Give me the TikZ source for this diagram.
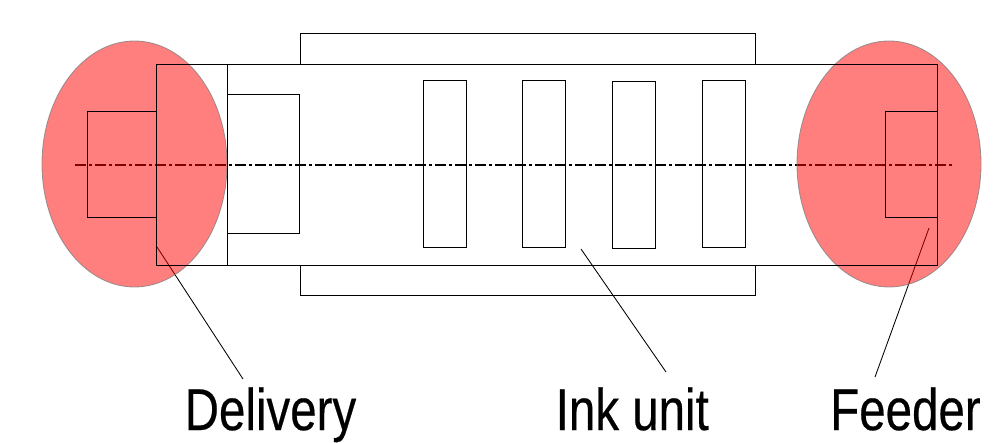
\documentclass[tikz,border=0pt]{standalone}
\usepackage{fontspec}
\setmainfont{Liberation Sans}
\newfontfamily\labfont[FakeBold=0.4]{Liberation Sans}
\tikzset{
  x=1pt,y=-1pt,
  box/.style={draw=black,line width=1pt},
  zone/.style={fill=red,fill opacity=.5,draw=gray,draw opacity=.8,line width=.8pt},
  leader/.style={draw=black,line width=.85pt},
  axis/.style={draw=black,line width=2.8pt,dash pattern=on 10.5pt off 3.2pt on 3.1pt off 3.2pt},
  lab/.style={anchor=base west,inner sep=0pt,font=\labfont\fontsize{59}{59}\selectfont},
}
\begin{document}
\begin{tikzpicture}
\useasboundingbox (0,0) rectangle (1000,443);
\fill[white] (0,0) rectangle (1000,443);
% labels and leader ends
\node[lab] (del) at (184.5,430) {\scalebox{.805}[1]{Delivery}};
\node[lab] (ink) at (555.5,430) {\scalebox{.805}[1]{Ink unit}};
\node[lab] (fee) at (830,430) {\scalebox{.805}[1]{Feeder}};
\coordinate (delA) at (157,247);
\coordinate (delB) at (243,379);
\coordinate (inkA) at (581,249);
\coordinate (inkB) at (666,372);
\coordinate (feeA) at (929,228);
\coordinate (feeB) at (875,377);
\coordinate (axA) at (75,165);
\coordinate (axB) at (952,165);
% lines beneath the zones
\draw[axis] (axA) -- (axB);
\draw[leader] (delA) -- (delB);
\draw[leader] (inkA) -- (inkB);
\draw[leader] (feeA) -- (feeB);
% zones
\path[zone] (134.5,164) ellipse [x radius=92.5,y radius=123];
\path[zone] (889,164) ellipse [x radius=92,y radius=123];
% machine
\node[box,minimum width=781pt,minimum height=200.5pt,inner sep=0pt,anchor=north west] (body) at (156,64.2) {};
\draw[box] (227.5,64.7) -- (227.5,265.2);
\draw[box] (300.5,64.7) |- (755.5,33.6) -- (755.5,64.7);
\draw[box] (300.5,265.2) |- (755.5,295.2) -- (755.5,265.2);
\draw[box] (156,111.3) -| (87.5,217.3) -- (156,217.3);
\draw[box] (937,111.3) -| (885.5,217.3) -- (937,217.3);
\draw[box] (227.5,94.6) -| (299.5,233.6) -- (227.5,233.6);
\draw[box] (423.5,80.6) rectangle (466.5,247.6);
\draw[box] (522.5,80.6) rectangle (565.5,247.6);
\draw[box] (612.5,81.6) rectangle (655.5,248.6);
\draw[box] (702.5,80.6) rectangle (745.5,247.6);
\end{tikzpicture}
\end{document}
